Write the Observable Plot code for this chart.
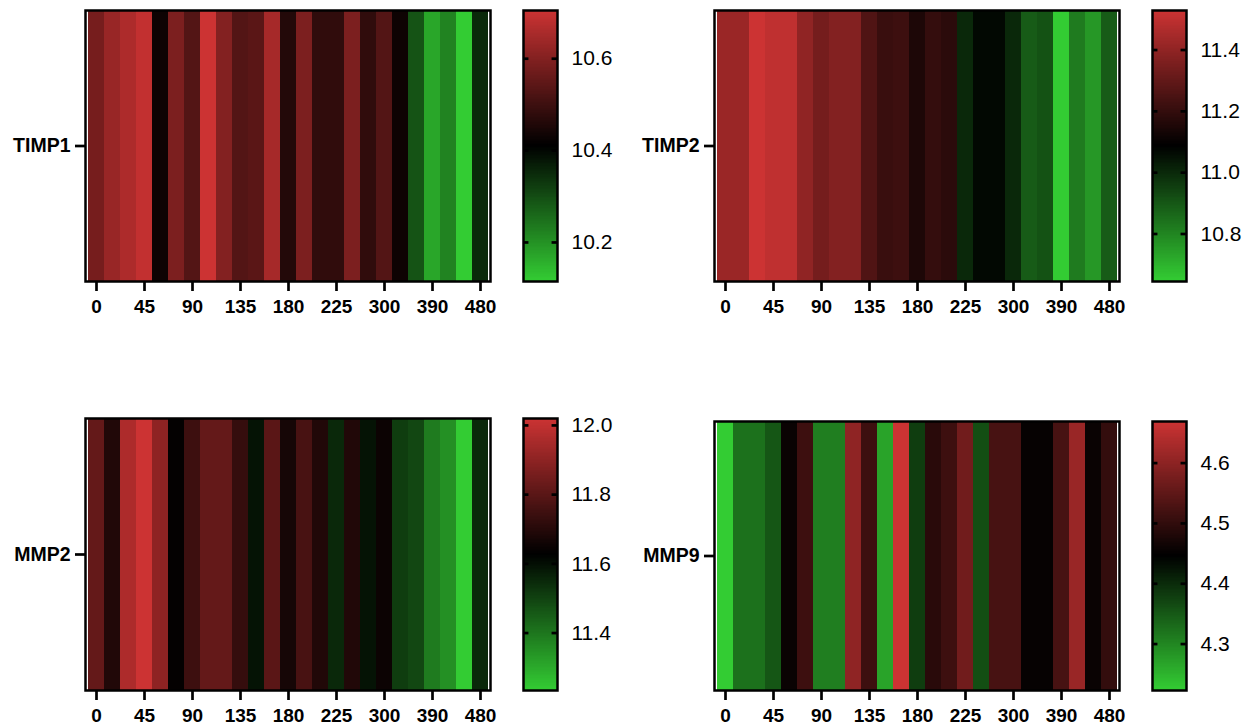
<!DOCTYPE html>
<html>
<head>
<meta charset="utf-8">
<script src="https://cdn.jsdelivr.net/npm/d3@7"></script>
<script src="https://cdn.jsdelivr.net/npm/@observablehq/plot@0.6"></script>
<style>
  html, body { margin: 0; padding: 0; background: white; }
  #root { position: relative; width: 1259px; height: 727px; font-family: "Liberation Sans", Arial, sans-serif; }
  .pane { position: absolute; }
</style>
</head>
<body>
<div id="root"></div>
<script>
// Time points (columns) and the labelled subset
const times = ["0","15","30","45","60","75","90","105","120","135","150","165","180","195","210","225","250","275","300","330","360","390","420","450","480"];
const xTicks = ["0","45","90","135","180","225","300","390","480"];

// Expression values per gene
const timp1 = [10.58,10.63,10.66,10.69,10.43,10.59,10.53,10.705,10.60,10.53,10.54,10.65,10.46,10.59,10.48,10.48,10.59,10.48,10.53,10.43,10.29,10.17,10.22,10.115,10.35];
const timp2 = [11.42,11.42,11.529,11.50,11.50,11.40,11.34,11.37,11.37,11.26,11.21,11.22,11.15,11.20,11.18,11.00,11.07,11.07,11.00,10.89,10.91,10.645,10.82,10.76,10.89];
const mmp2  = [11.82,11.69,11.96,12.02,11.90,11.635,11.745,11.82,11.82,11.73,11.59,11.80,11.67,11.765,11.69,11.55,11.69,11.59,11.65,11.51,11.49,11.39,11.35,11.234,11.55];
const mmp9  = [4.223,4.323,4.323,4.352,4.457,4.513,4.308,4.308,4.602,4.513,4.268,4.669,4.379,4.491,4.513,4.569,4.361,4.524,4.524,4.453,4.453,4.524,4.613,4.457,4.502];

// Colour-bar tick labels
const timp1Ticks = [10.2, 10.4, 10.6];
const timp2Ticks = [10.8, 11.0, 11.2, 11.4];
const mmp2Ticks  = [11.4, 11.6, 11.8, 12.0];
const mmp9Ticks  = [4.3, 4.4, 4.5, 4.6];

const panels = [
  {gene: "TIMP1", values: timp1, ticks: timp1Ticks, left: 0,   top: 0,   mt: 10, ph: 271},
  {gene: "TIMP2", values: timp2, ticks: timp2Ticks, left: 629, top: 0,   mt: 10, ph: 271},
  {gene: "MMP2",  values: mmp2,  ticks: mmp2Ticks,  left: 0,   top: 408, mt: 10, ph: 272},
  {gene: "MMP9",  values: mmp9,  ticks: mmp9Ticks,  left: 629, top: 408, mt: 13, ph: 269}
];

const font = '"Liberation Sans", Arial, sans-serif';
const root = document.getElementById("root");

for (const p of panels) {
  const rows = times.map((t, i) => ({time: t, gene: p.gene, value: p.values[i]}));
  const [lo, hi] = d3.extent(p.values);
  const color = {type: "linear", domain: [lo, (lo + hi) / 2, hi], range: ["#33cc33", "#000000", "#cc3333"], interpolate: "rgb"};
  const mb = 45;

  const heat = Plot.plot({
    width: 500, height: p.mt + p.ph + mb,
    marginLeft: 85, marginRight: 10, marginTop: p.mt, marginBottom: mb,
    style: {fontFamily: font, color: "black", background: "white", overflow: "visible"},
    x: {domain: times, padding: 0, axis: null},
    y: {domain: [p.gene], padding: 0, axis: null},
    color,
    marks: [
      Plot.cell(rows, {x: "time", y: "gene", fill: "value", inset: 0, shapeRendering: "crispEdges"}),
      Plot.frame({stroke: "black", strokeWidth: 2.5}),
      Plot.axisX({ticks: xTicks, tickSize: 10, tickPadding: 8, strokeWidth: 2.7, fontSize: 19, fontWeight: "bold", label: null}),
      Plot.axisY({ticks: [p.gene], tickSize: 10, tickPadding: 5, strokeWidth: 2.7, fontSize: 19.5, fontWeight: "bold", label: null})
    ]
  });
  const d1 = document.createElement("div");
  d1.className = "pane";
  d1.style.left = p.left + "px"; d1.style.top = p.top + "px";
  d1.appendChild(heat);
  root.appendChild(d1);

  // Vertical colour bar
  const n = 200;
  const stops = d3.range(n).map(i => {
    const a = lo + (hi - lo) * i / n, b = lo + (hi - lo) * (i + 1) / n;
    return {y1: a, y2: b, v: (a + b) / 2};
  });
  const bar = Plot.plot({
    width: 130, height: p.mt + p.ph + mb,
    marginLeft: 23, marginRight: 73, marginTop: p.mt, marginBottom: mb,
    style: {fontFamily: font, color: "black", background: "white", overflow: "visible"},
    x: {domain: [0, 1], axis: null},
    y: {domain: [lo, hi], axis: null},
    color,
    marks: [
      Plot.rect(stops, {x1: 0, x2: 1, y1: "y1", y2: "y2", fill: "v", shapeRendering: "crispEdges"}),
      Plot.ruleY(p.ticks, {x1: 0, x2: 0.16, strokeWidth: 2.7}),
      Plot.ruleY(p.ticks, {x1: 0.84, x2: 1, strokeWidth: 2.7}),
      Plot.frame({stroke: "black", strokeWidth: 2.5}),
      Plot.axisY({anchor: "right", ticks: p.ticks, tickSize: 0, tickPadding: 14, tickFormat: ".1f", fontSize: 21, label: null})
    ]
  });
  const d2 = document.createElement("div");
  d2.className = "pane";
  d2.style.left = (p.left + 500) + "px"; d2.style.top = p.top + "px";
  d2.appendChild(bar);
  root.appendChild(d2);
}
</script>
</body>
</html>
